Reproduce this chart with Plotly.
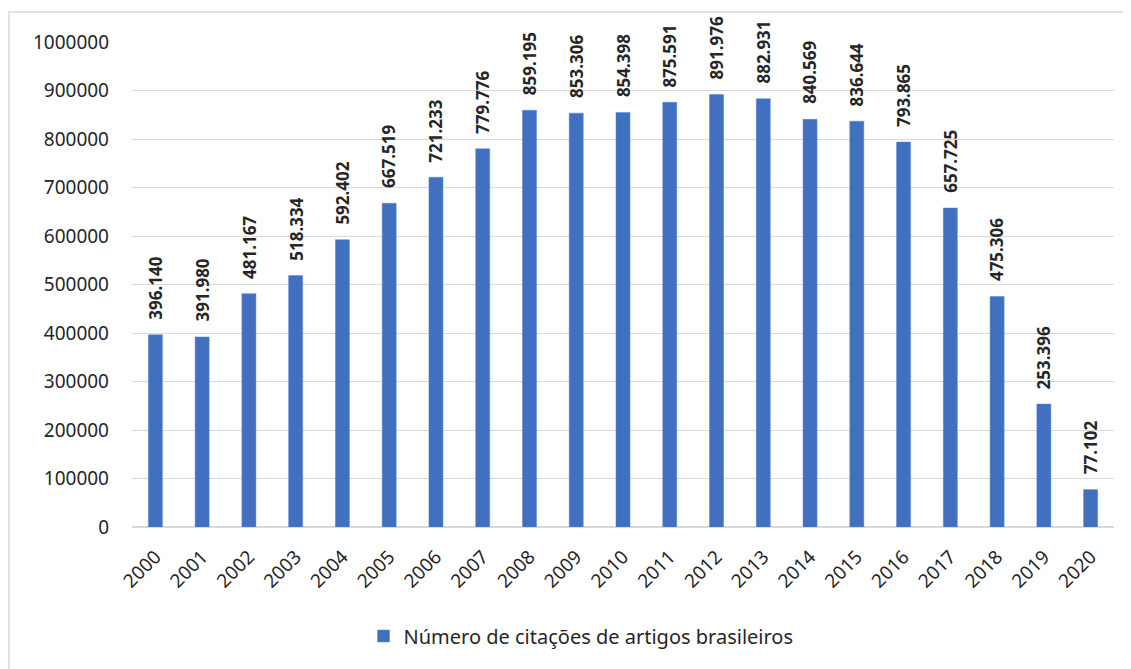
import plotly.graph_objects as go

years = [str(y) for y in range(2000, 2021)]
citations = [396140, 391980, 481167, 518334, 592402, 667519, 721233, 779776,
             859195, 853306, 854398, 875591, 891976, 882931, 840569, 836644,
             793865, 657725, 475306, 253396, 77102]
series_name = "Número de citações de artigos brasileiros"
labels = [f"{v:,}".replace(",", ".") for v in citations]

# page offset of the plot div (default body margin)
OFF = 8
W, H = 1131 - OFF, 669 - OFF
PL, PR, PT, PB = 132, 1114, 42, 527  # plot area in page pixels
L, R, T, B = PL - OFF, 1131 - PR, PT - OFF, 669 - PB
pw, ph = PR - PL, PB - PT

def px_x(p):
    return (p - PL) / pw

def px_y(p):
    return (PB - p) / ph

fig = go.Figure()
fig.add_trace(go.Bar(
    x=years, y=citations, name=series_name,
    marker=dict(color="#4170c0", line=dict(color="#5b85d0", width=0.5)),
    showlegend=True,
))

for i, (y, t) in enumerate(zip(citations, labels)):
    fig.add_annotation(x=i, y=y, text=t, showarrow=False, textangle=-90,
                       xanchor="center", yanchor="bottom", yshift=13,
                       font=dict(family="Noto Sans", size=17, color="#262626", weight="bold"))

fig.update_layout(
    width=W, height=H,
    margin=dict(l=L, r=R, t=T, b=B, autoexpand=False),
    paper_bgcolor="white", plot_bgcolor="white",
    bargap=0.7,
    font=dict(family="Noto Sans", color="#262626"),
    xaxis=dict(type="category", range=[-0.5, len(years) - 0.5], tickangle=-45,
               tickfont=dict(size=19, color="#262626"),
               showgrid=False, showline=False, ticks="", ticklabelstandoff=14),
    yaxis=dict(range=[0, 1000000], dtick=100000, tickformat="d",
               tickfont=dict(size=19, color="#262626"),
               showgrid=True, gridcolor="#d9d9d9", gridwidth=1,
               zeroline=True, zerolinecolor="#d9d9d9", zerolinewidth=1.5,
               ticks="", ticklabelstandoff=22),
    legend=dict(orientation="h", x=px_x(581), xanchor="center", y=px_y(636), yanchor="middle",
                font=dict(size=20, color="#262626")),
    shapes=[dict(type="rect", xref="paper", yref="paper",
                 x0=px_x(9), x1=px_x(1145), y0=px_y(690), y1=px_y(12),
                 line=dict(color="#d9d9d9", width=1.5), layer="below")],
)

fig.write_html("out.html")
